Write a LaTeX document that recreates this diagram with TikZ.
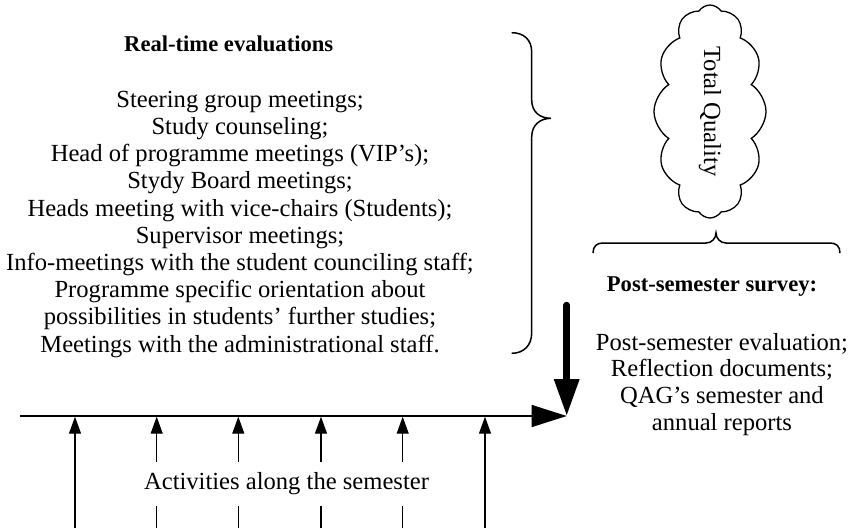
\documentclass[tikz,border=0pt]{standalone}
\usepackage{fontspec}
\setmainfont{Liberation Serif}
\usetikzlibrary{arrows.meta,shapes.symbols}

\begin{document}
\begin{tikzpicture}[x=1pt,y=-1pt,
  body/.style={font=\fontsize{24.6}{27.2}\selectfont, align=center, inner sep=0pt},
  heading/.style={font=\fontsize{22.6}{26}\selectfont\bfseries, inner sep=0pt},
  brace/.style={line width=1.5pt},
  timeline/.style={line width=1.3pt, -{Triangle[length=35pt,width=22pt]}},
  feed/.style={line width=6.5pt, line cap=round, -{Triangle[length=37pt,width=24pt]}},
  activity/.style={line width=1.2pt, -{Triangle[length=17pt,width=12pt]}},
]
\useasboundingbox (0,0) rectangle (852,528);

% real-time evaluations (multi-line nodes sit on the baseline of their last line)
\node[heading, anchor=base] (rt) at (228.7,51.7) {Real-time evaluations};
\node[body, anchor=base] (rtlist) at (240,352.1) {Steering group meetings;\\
  Study counseling;\\
  Head of programme meetings (VIP's);\\
  Stydy Board meetings;\\
  Heads meeting with vice-chairs (Students);\\
  Supervisor meetings;\\
  Info-meetings with the student counciling staff;\\
  Programme specific orientation about\\
  possibilities in students' further studies;\\
  Meetings with the administrational staff.};

% brace gathering the real-time evaluations
\draw[brace] (511.7,32.7) .. controls (524,32.7) and (531.7,40) .. (531.7,52)
  -- (531.7,100) .. controls (531.7,112) and (540,118.3) .. (551,118.3)
  .. controls (540,118.3) and (531.7,125) .. (531.7,137)
  -- (531.7,333) .. controls (531.7,345) and (524,353.3) .. (511.7,353.3);

% total quality cloud
\node[cloud, draw, line width=1.3pt, cloud puffs=12, cloud puff arc=115,
  cloud ignores aspect, minimum width=213pt, minimum height=112pt, inner sep=0pt,
  rotate=-90, font=\fontsize{24.6}{27.2}\selectfont] (tq) at (710,111.5) {Total Quality};

% brace under the cloud
\draw[brace] (593,253) .. controls (593,246) and (597,243) .. (603,243)
  -- (706,243) .. controls (712,243) and (716,238) .. (716,233)
  .. controls (716,238) and (720,243) .. (726,243)
  -- (830,243) .. controls (836,243) and (840,246) .. (840,253);

% post-semester survey
\node[heading, anchor=base] (ps) at (712,291.7) {Post-semester survey:};
\node[body, anchor=base, font=\fontsize{24.6}{26.7}\selectfont] (pslist) at (722,430.1)
  {Post-semester evaluation;\\ Reflection documents;\\ QAG's semester and\\ annual reports};

% semester time line
\coordinate (t0) at (20,416);
\coordinate (t1) at (566.7,416);
\coordinate (d0) at (566.7,305);
\draw[timeline] (t0) -- (t1);
\draw[feed] (d0) -- (t1);

% activities along the semester
\foreach \i/\x in {1/75,2/156.7,3/238.3,4/321,5/402.7,6/485}{
  \coordinate (b\i) at (\x,528);
  \coordinate (u\i) at (\x,416.7);
  \draw[activity] (b\i) -- (u\i);
}
\node[body, fill=white, inner xsep=2pt, minimum height=43.3pt] (act) at (286.5,484)
  {Activities along the semester};
\end{tikzpicture}
\end{document}
